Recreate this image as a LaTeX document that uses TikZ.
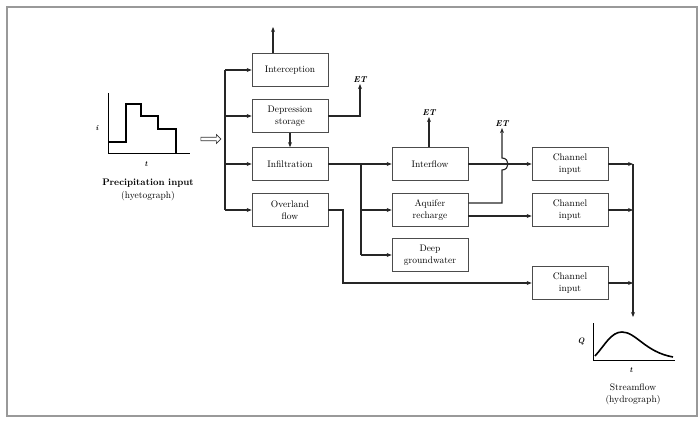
\documentclass[tikz,border=0pt]{standalone}
\usetikzlibrary{arrows.meta,shapes.arrows}
\begin{document}
\begin{tikzpicture}[x=1pt,y=-1pt,
  box/.style={draw=black!70,line width=0.7pt,minimum width=76pt,minimum height=33pt,inner sep=1pt,align=center,font=\fontsize{9.5}{12}\selectfont},
  conn/.style={line width=1.1pt,draw=black!85},
  arr/.style={conn,-{Stealth[length=5pt,width=4pt]}},
  etlab/.style={font=\fontsize{8.5}{9}\selectfont\itshape\bfseries,inner sep=1pt},
  lab/.style={font=\fontsize{9.5}{11}\selectfont,inner sep=1pt}]
\useasboundingbox (0,0) rectangle (700,422);
\draw[black!40,line width=1.6pt] (7,7) rectangle (697,416);
% boxes
\node[box] (int) at (290,70) {Interception};
\node[box] (dep) at (290,116) {Depression\\storage};
\node[box] (inf) at (290,164) {Infiltration};
\node[box] (ovl) at (290,210) {Overland\\flow};
\node[box] (itf) at (430,164) {Interflow};
\node[box] (aqr) at (430,210) {Aquifer\\recharge};
\node[box] (dgw) at (430,255) {Deep\\groundwater};
\node[box] (ch1) at (570,164) {Channel\\input};
\node[box] (ch2) at (570,210) {Channel\\input};
\node[box] (ch3) at (570,283) {Channel\\input};
% hyetograph
\draw[line width=0.8pt] (108,93) -- (108,153) -- (190,153);
\draw[line width=1.8pt] (108,142) -- (126,142) -- (126,104) -- (141,104) -- (141,116) -- (158,116) -- (158,129) -- (176,129) -- (176,153);
\node[lab,font=\fontsize{7.5}{8}\selectfont\itshape\bfseries] (il) at (97,128) {i};
\node[lab,font=\fontsize{7.5}{8}\selectfont\itshape\bfseries] (tl) at (146,164) {t};
\node[lab,font=\fontsize{9.5}{11}\selectfont\bfseries] (pin) at (148,183) {Precipitation input};
\node[lab] (pin2) at (148,196) {(hyetograph)};
% input arrow
\node[single arrow,draw=black!80,fill=white,line width=0.6pt,minimum height=20pt,minimum width=9pt,single arrow head extend=2pt,inner sep=1pt] (inarr) at (210,139) {};
% bus
\coordinate (b1) at (225,70);
\coordinate (b4) at (225,210);
\draw[conn] (b1) -- (b4);
\draw[arr] (b1) -- (int.west);
\draw[arr] (225,116) coordinate (b2) -- (dep.west);
\draw[arr] (225,164) coordinate (b3) -- (inf.west);
\draw[arr] (b4) -- (ovl.west);
% interception up
\coordinate (intup) at (273,27);
\draw[arr] (int.north -| intup) -- (intup);
% depression ET
\node[etlab] (et1) at (360,80) {ET};
\draw[arr] (dep.east) -- (360,116) -- (et1.south);
\draw[arr] (dep.south) -- (inf.north);
% infiltration branches
\coordinate (j1) at (361,164);
\draw[arr] (inf.east) -- (itf.west);
\draw[conn] (j1) -- (361,255);
\draw[arr] (361,210) -- (aqr.west);
\draw[arr] (361,255) -- (dgw.west);
% interflow ET
\node[etlab] (et2) at (429,113) {ET};
\draw[arr] (itf.north -| et2) -- (et2.south);
% interflow to channel 1
\draw[arr] (itf.east) -- (ch1.west);
% aquifer ET with hop
\node[etlab] (et3) at (502,124) {ET};
\draw[arr] (aqr.east |- 0,203) -- (502,203) -- (502,170) .. controls (510,170) and (510,158) .. (502,158) -- (et3.south);
\draw[arr] (aqr.east |- 0,216) -- (ch2.west |- 0,216);
% overland to channel 3
\draw[arr] (ovl.east) -- (343,210) -- (343,283) -- (ch3.west);
% channel outputs
\coordinate (c1) at (633,164);
\coordinate (c3) at (633,283);
\draw[arr] (ch1.east) -- (c1);
\draw[arr] (ch2.east) -- (633,210);
\draw[arr] (ch3.east) -- (c3);
\coordinate (hyd) at (633,317);
\draw[arr] (c1) -- (hyd);
% hydrograph
\draw[line width=0.8pt] (593,323) -- (593,360) -- (675,360);
\draw[line width=1.6pt] (595,356) .. controls (605,345) and (611,332) .. (622,332) .. controls (636,332) and (645,352) .. (673,357);
\node[lab,font=\fontsize{8}{9}\selectfont\itshape\bfseries] (ql) at (581,341) {Q};
\node[lab,font=\fontsize{7.5}{8}\selectfont\itshape\bfseries] (tl2) at (631,370) {t};
\node[lab] (sf) at (633,387) {Streamflow};
\node[lab] (sf2) at (633,400) {(hydrograph)};
\end{tikzpicture}
\end{document}
